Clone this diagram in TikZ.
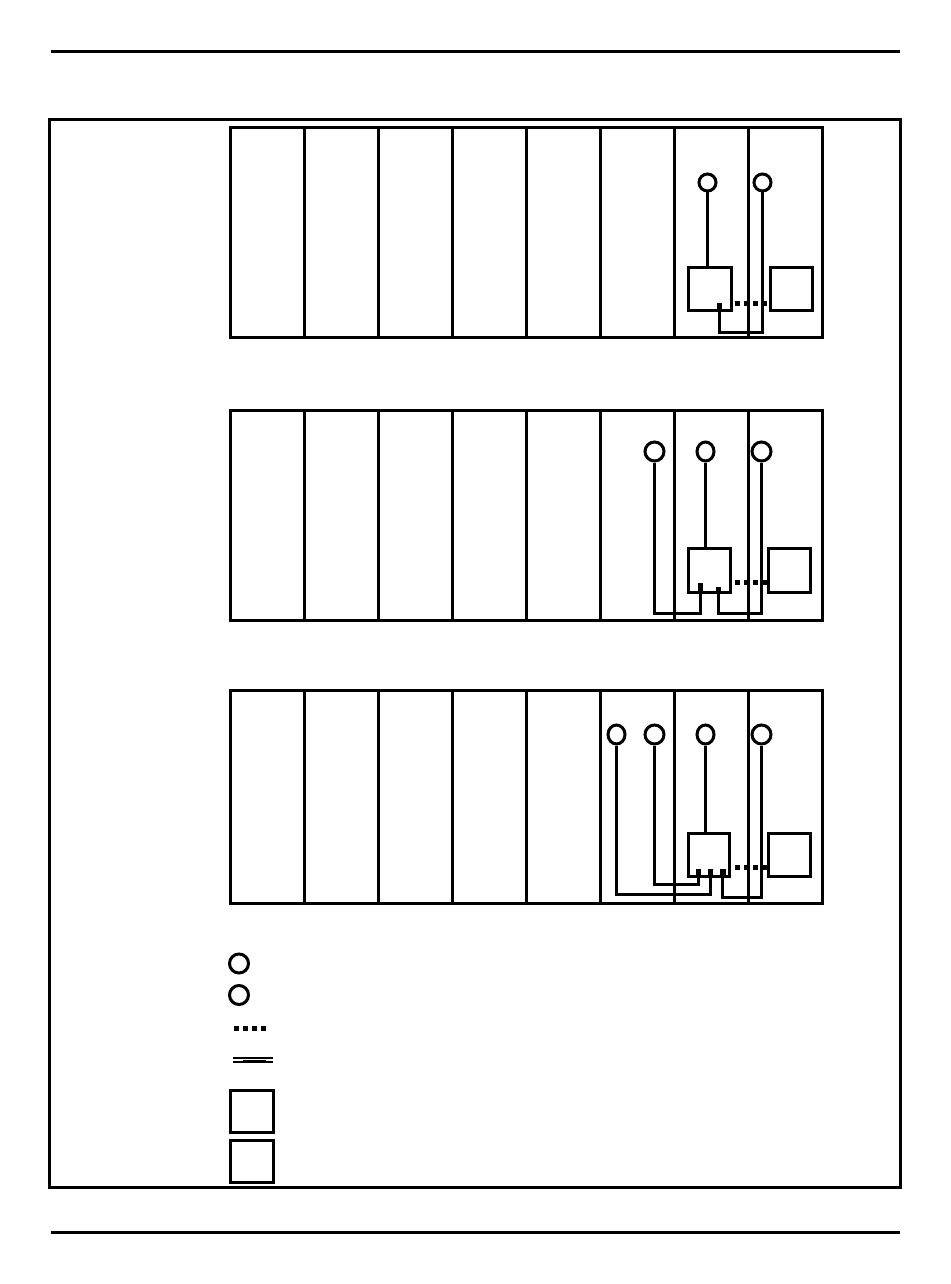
\documentclass[tikz,border=0pt]{standalone}
\usetikzlibrary{shapes.geometric}
\tikzset{
  port/.style={draw, ellipse, line width=3pt, inner sep=0pt, minimum width=19pt, minimum height=19pt},
  narrowport/.style={port, minimum width=17pt},
  smallport/.style={port, minimum width=17pt, minimum height=17pt},
  unitbox/.style={draw, rectangle, line width=3pt, inner sep=0pt, minimum width=42pt, minimum height=42pt},
  tab/.style={fill=black, rectangle, inner sep=0pt, minimum width=5pt, minimum height=7pt},
  wire/.style={line width=3pt},
  dotline/.style={line width=4.6pt, dash pattern=on 4.6pt off 4.4pt},
  rackline/.style={line width=3pt}
}

\begin{document}
\begin{tikzpicture}[x=1pt, y=-1pt]
  \useasboundingbox (0, 0) rectangle (950, 1284);
  \draw[rackline] (50.5, 51.5) -- (899.5, 51.5);
  \draw[rackline] (50.5, 1232.5) -- (899.5, 1232.5);
  \draw[rackline] (49.5, 119.5) rectangle (900.5, 1187.5);
  \foreach \ya/\yb in {127.5/337.5, 410.5/620.5, 690.5/903.5} {
    \draw[rackline] (230.5, \ya) rectangle (822.5, \yb);
    \foreach \xa in {304, 378, 452, 526, 600, 674, 748}
      \draw[rackline] (\xa.5, \ya) -- (\xa.5, \yb);
  }

  \node[smallport] (porta1) at (707.5, 182.5) {};
  \node[smallport] (porta2) at (762.5, 182.5) {};
  \node[unitbox, minimum width=43pt, minimum height=43pt] (boxa1) at (710, 288.5) {};
  \node[unitbox, minimum height=43pt] (boxa2) at (791.5, 288.5) {};
  \node[tab] (taba1) at (719.5, 306.5) {};
  \coordinate (benda1) at (719.5, 332.5);
  \coordinate (dota1) at (735, 303.5);
  \draw[wire] (porta1) -- (porta1 |- boxa1.north);
  \draw[wire] (porta2) |- (benda1) -- (taba1);
  \draw[dotline] (dota1) -- (dota1 -| boxa2.west);

  \node[port] (portb1) at (654.5, 451.5) {};
  \node[narrowport] (portb2) at (705.5, 451.5) {};
  \node[port] (portb3) at (761.5, 451.5) {};
  \node[unitbox, minimum height=44pt] (boxb1) at (709, 570) {};
  \node[unitbox, minimum height=44pt] (boxb2) at (789.5, 570) {};
  \node[tab, minimum height=9pt] (tabb1) at (700.5, 587.5) {};
  \node[tab, minimum height=5pt] (tabb2) at (718.5, 589.5) {};
  \coordinate (bendb1) at (700.5, 613.5);
  \coordinate (bendb2) at (718.5, 613.5);
  \coordinate (dotb1) at (735, 582.5);
  \draw[wire] (portb2) -- (portb2 |- boxb1.north);
  \draw[wire] (portb1) |- (bendb1) -- (tabb1);
  \draw[wire] (portb3) |- (bendb2) -- (tabb2);
  \draw[dotline] (dotb1) -- (dotb1 -| boxb2.west);

  \node[narrowport] (portc1) at (616.5, 734.5) {};
  \node[port] (portc2) at (654.5, 734.5) {};
  \node[narrowport] (portc3) at (705.5, 734.5) {};
  \node[port] (portc4) at (761.5, 734.5) {};
  \node[unitbox, minimum width=41pt, minimum height=43pt] (boxc1) at (708.5, 854.5) {};
  \node[unitbox, minimum height=43pt] (boxc2) at (789.5, 854.5) {};
  \node[tab] (tabc1) at (698.5, 872) {};
  \node[tab] (tabc2) at (710.5, 872) {};
  \node[tab, minimum width=6pt] (tabc3) at (722.5, 872) {};
  \coordinate (bendc1) at (710.5, 894.5);
  \coordinate (bendc2) at (698.5, 884.5);
  \coordinate (bendc3) at (722.5, 897.5);
  \coordinate (dotc1) at (735, 867.5);
  \draw[wire] (portc3) -- (portc3 |- boxc1.north);
  \draw[wire] (portc1) |- (bendc1) -- (tabc2);
  \draw[wire] (portc2) |- (bendc2) -- (tabc1);
  \draw[wire] (portc4) |- (bendc3) -- (tabc3);
  \draw[dotline] (dotc1) -- (dotc1 -| boxc2.west);

  \node[port] (keya) at (239, 963.5) {};
  \node[port] (keyb) at (239, 995) {};
  \coordinate (keyc) at (234, 1028.5);
  \coordinate (keyce) at (268, 1028.5);
  \draw[dotline] (keyc) -- (keyce);
  \coordinate (keyd) at (233, 1058.3);
  \coordinate (keyde) at (273, 1058.3);
  \coordinate (keyf) at (233, 1061.7);
  \coordinate (keyfe) at (273, 1061.7);
  \coordinate (keyg) at (243, 1060);
  \coordinate (keyge) at (266, 1060);
  \draw[line width=1.7pt] (keyd) -- (keyde);
  \draw[line width=1.7pt] (keyf) -- (keyfe);
  \draw[line width=1pt] (keyg) -- (keyge);
  \node[unitbox, minimum width=43pt] (keyh) at (251.5, 1111) {};
  \node[unitbox, minimum width=43pt] (keyi) at (252, 1161.5) {};
\end{tikzpicture}
\end{document}
